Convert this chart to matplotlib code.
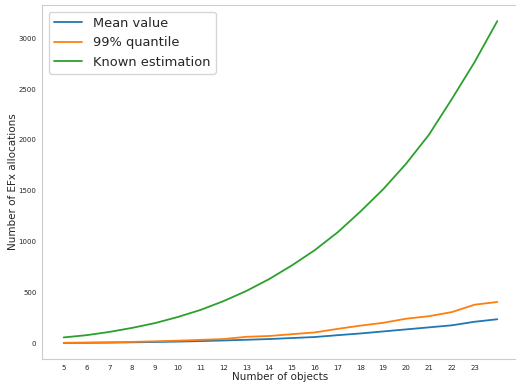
import matplotlib
matplotlib.use("Agg")
import matplotlib.pyplot as plt
import seaborn as sns

# Daten
n_objects = list(range(5, 25))
mean_value = [2, 3, 5, 8, 11, 15, 20, 26, 33, 40, 50, 60, 78, 95, 115, 135, 155, 175, 210, 235]
quantile_99 = [3, 5, 8, 12, 18, 24, 32, 40, 62, 70, 88, 105, 140, 172, 200, 240, 265, 305, 378, 405]
known_estimation = [56, 78, 110, 150, 197, 257, 327, 413, 513, 630, 765, 915, 1090, 1295,
                    1515, 1765, 2050, 2400, 2765, 3170]
xtick_labels = list(range(5, 24))

sns.set_style("whitegrid")
plt.rcParams['font.family'] = ['DejaVu Sans']

fig = plt.figure(figsize=(5.16, 3.83), dpi=100)
ax = fig.add_axes([42 / 516, 24 / 383, 477 / 516, 354 / 383])

ax.plot(n_objects, mean_value, color="#1f77b4", lw=1.3, label="Mean value")
ax.plot(n_objects, quantile_99, color="#ff7f0e", lw=1.3, label="99% quantile")
ax.plot(n_objects, known_estimation, color="#2ca02c", lw=1.3, label="Known estimation")

ax.grid(False)
ax.spines["right"].set_visible(False)
ax.set_xticks(xtick_labels)
ax.tick_params(axis="both", labelsize=5, pad=0.5, colors=".15")
ax.set_xlabel("Number of objects", fontsize=7.5, labelpad=1)
ax.set_ylabel("Number of EFx allocations", fontsize=7.5)
ax.yaxis.set_label_coords(-0.05, 0.5)

ax.legend(loc="upper left", fontsize=9.4, bbox_to_anchor=(0.0, 1.0),
          borderaxespad=0.5, handlelength=2.15, handletextpad=0.84,
          labelspacing=0.49)

fig.savefig("out.png", dpi=100)
